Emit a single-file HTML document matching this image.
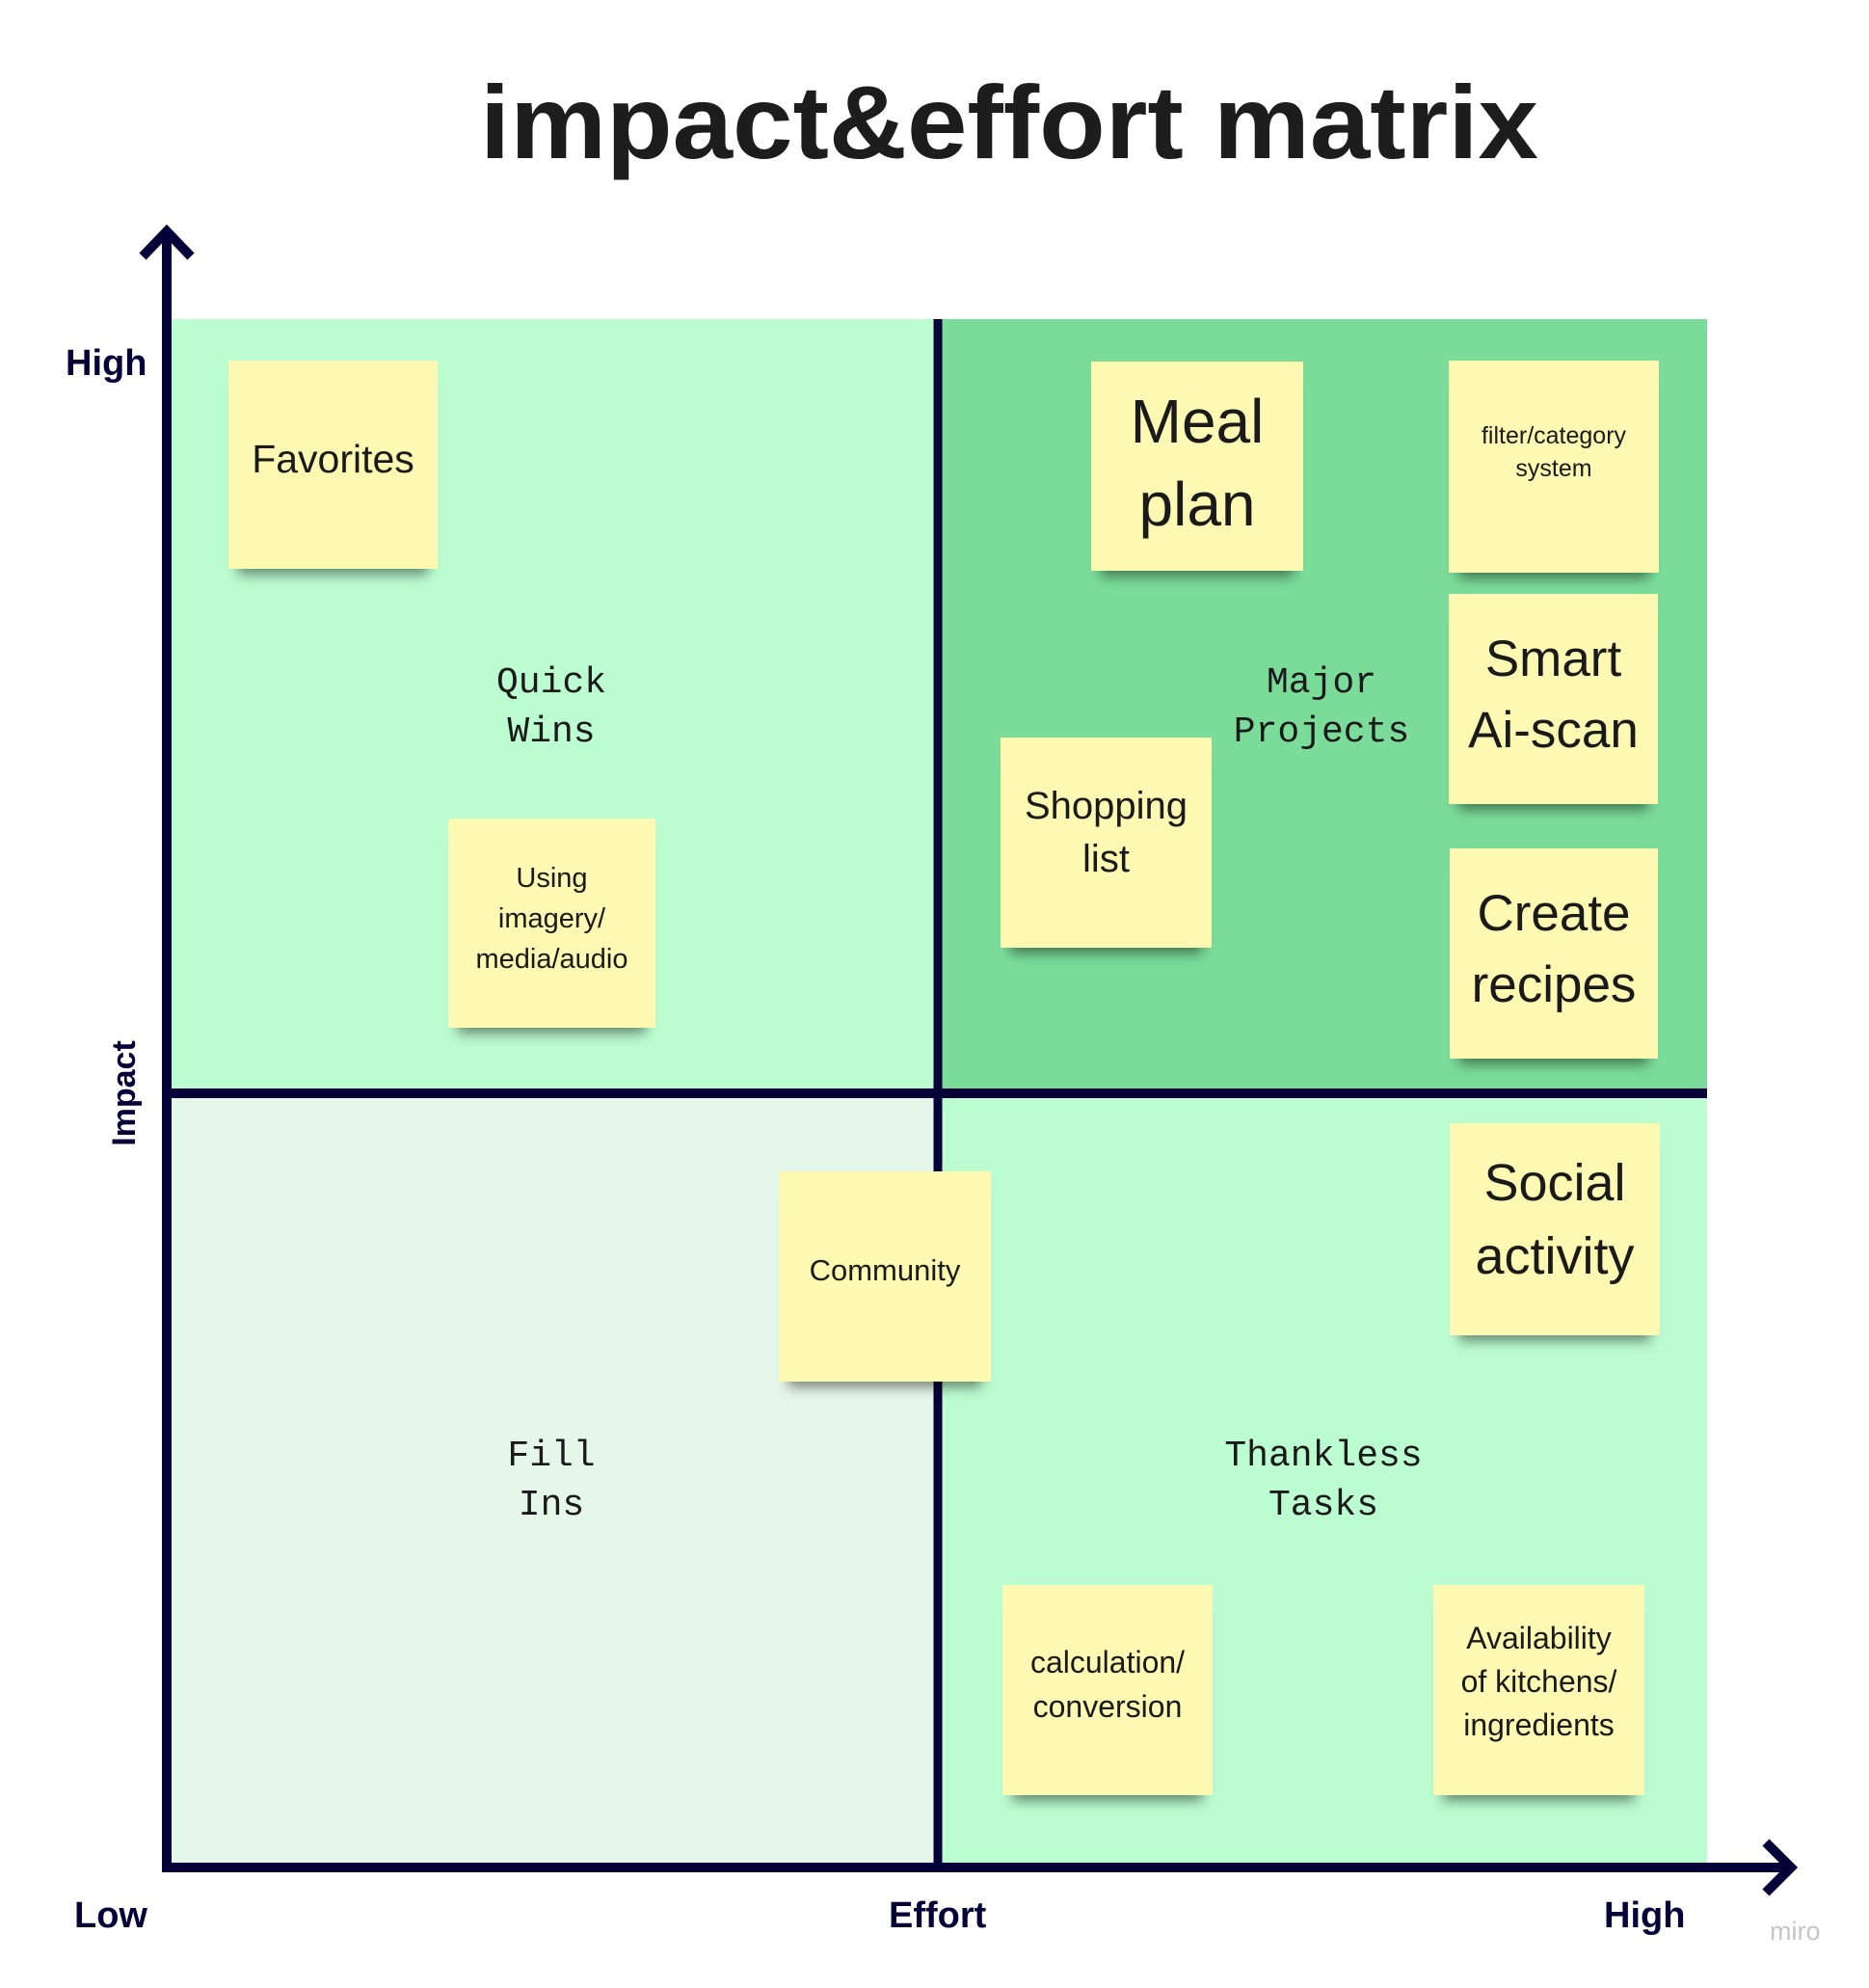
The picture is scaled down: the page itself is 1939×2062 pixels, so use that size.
<!DOCTYPE html>
<html><head><meta charset="utf-8"><style>
html,body{margin:0;padding:0;background:#fff;}
body{width:1939px;height:2062px;position:relative;overflow:hidden;font-family:"Liberation Sans",sans-serif;}
.q{position:absolute;}
.n{position:absolute;background:#fdf8b2;display:flex;align-items:center;justify-content:center;text-align:center;color:#1a1a1a;box-shadow:0 16px 12px -10px rgba(0,0,0,.45);box-sizing:border-box;}
.m{position:absolute;font-family:"Liberation Mono",monospace;font-size:38px;line-height:51px;color:#1a1a1a;text-align:center;transform:translateX(-50%);white-space:pre;}
.lab{position:absolute;font-weight:bold;color:#050038;font-size:38px;}
</style></head><body>
<div class="q" style="left:178px;top:331px;width:794px;height:803px;background:#bbfcd0"></div>
<div class="q" style="left:972px;top:331px;width:799px;height:803px;background:#7bdc9a"></div>
<div class="q" style="left:178px;top:1134px;width:794px;height:803px;background:#e5f6ea"></div>
<div class="q" style="left:972px;top:1134px;width:799px;height:803px;background:#bbfcd0"></div>

<svg style="position:absolute;left:0;top:0" width="1939" height="2062">
<text x="498" y="164" font-family="Liberation Sans" font-weight="bold" font-size="108" fill="#1d1d1d" textLength="1098" lengthAdjust="spacingAndGlyphs">impact&amp;effort matrix</text>
<line x1="973" y1="331" x2="973" y2="1937" stroke="#050038" stroke-width="9"/>
<line x1="178" y1="1134" x2="1771" y2="1134" stroke="#050038" stroke-width="10"/>
<line x1="173" y1="240" x2="173" y2="1937" stroke="#050038" stroke-width="10"/>
<line x1="168" y1="1937" x2="1856" y2="1937" stroke="#050038" stroke-width="10"/>
<polyline points="148,266 173,240 198,266" fill="none" stroke="#050038" stroke-width="10"/>
<polyline points="1832,1911 1858,1937 1832,1963" fill="none" stroke="#050038" stroke-width="10"/>
<text x="140" y="1134" transform="rotate(-90 140 1134)" text-anchor="middle" font-family="Liberation Sans" font-weight="bold" font-size="34" fill="#050038">Impact</text>
</svg>

<div class="lab" style="left:68px;top:356px;">High</div>
<div class="lab" style="left:77px;top:1966px;">Low</div>
<div class="lab" style="left:922px;top:1966px;">Effort</div>
<div class="lab" style="left:1664px;top:1966px;">High</div>
<div style="position:absolute;left:1836px;top:1988px;font-size:27px;color:#c4c4cc;">miro</div>

<div class="m" style="left:572px;top:683px;">Quick
Wins</div>
<div class="m" style="left:1371px;top:683px;">Major
Projects</div>
<div class="m" style="left:572px;top:1485px;">Fill
Ins</div>
<div class="m" style="left:1373px;top:1485px;">Thankless
Tasks</div>

<div class="n" style="left:237px;top:374px;width:217px;height:216px;font-size:41px;padding-bottom:12px;">Favorites</div>
<div class="n" style="left:1132px;top:375px;width:220px;height:217px;font-size:64px;line-height:86px;padding-bottom:8px;">Meal<br>plan</div>
<div class="n" style="left:1503px;top:374px;width:218px;height:220px;font-size:25px;line-height:34px;padding-bottom:30px;">filter/category<br>system</div>
<div class="n" style="left:1503px;top:616px;width:217px;height:218px;font-size:53px;line-height:74px;padding-bottom:8px;">Smart<br>Ai-scan</div>
<div class="n" style="left:1504px;top:880px;width:216px;height:218px;font-size:53px;line-height:74px;padding-bottom:8px;">Create<br>recipes</div>
<div class="n" style="left:1038px;top:765px;width:219px;height:218px;font-size:40px;line-height:55px;padding-bottom:20px;">Shopping<br>list</div>
<div class="n" style="left:465px;top:849px;width:215px;height:217px;font-size:29px;line-height:42px;padding-bottom:10px;">Using<br>imagery/<br>media/audio</div>
<div class="n" style="left:808px;top:1215px;width:220px;height:218px;font-size:31px;padding-bottom:12px;">Community</div>
<div class="n" style="left:1504px;top:1165px;width:218px;height:220px;font-size:54px;line-height:76px;padding-bottom:20px;">Social<br>activity</div>
<div class="n" style="left:1040px;top:1644px;width:218px;height:218px;font-size:32px;line-height:46px;padding-bottom:12px;">calculation/<br>conversion</div>
<div class="n" style="left:1487px;top:1644px;width:219px;height:218px;font-size:32px;line-height:45px;padding-bottom:18px;">Availability<br>of kitchens/<br>ingredients</div>
</body></html>
